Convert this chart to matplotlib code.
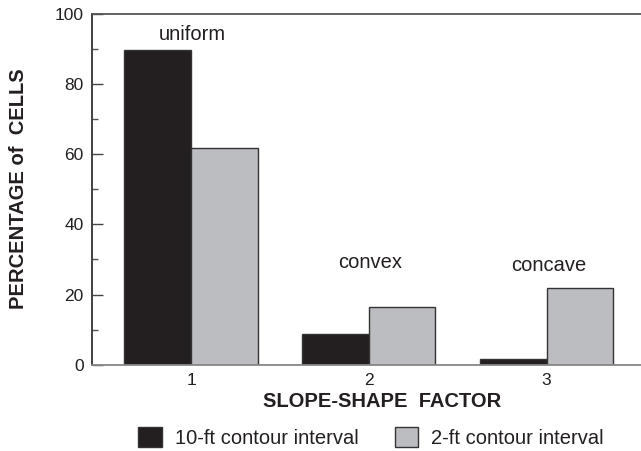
import matplotlib
matplotlib.use("Agg")
import matplotlib.pyplot as plt
from matplotlib.patches import Patch
from matplotlib.ticker import MultipleLocator

plt.rcParams['font.family'] = ['Liberation Sans', 'DejaVu Sans']

categories = [1, 2, 3]
tick_labels = ["1", "2", "3"]
series_10ft = [89.8, 8.7, 1.7]
series_2ft = [61.9, 16.4, 21.9]
shape_labels = ["uniform", "convex", "concave"]
shape_label_y = [92.6, 27.6, 26.8]
legend_labels = ["10-ft contour interval", "2-ft contour interval"]

black = "#231f20"
grey = "#bcbdc1"
edge = "#333333"
text_col = "#231f20"

W, H = 641, 451
fig = plt.figure(figsize=(W / 100, H / 100), dpi=100)
left, bottom = 92, 364.7
ax = fig.add_axes([left / W, (H - bottom) / H, (665 - left) / W, 350.7 / H])

width = 0.375
ax.bar(categories, series_10ft, width=-width, align='edge', color=black,
       edgecolor=edge, linewidth=1.0, zorder=2)
ax.bar(categories, series_2ft, width=width, align='edge', color=grey,
       edgecolor=edge, linewidth=1.0, zorder=2)

px_per_unit = 177.8
x0 = 1 - (191 - left) / px_per_unit
ax.set_xlim(x0, x0 + (665 - left) / px_per_unit)
ax.set_ylim(0, 100)

for c, lab, yy in zip(categories, shape_labels, shape_label_y):
    ax.text(c + 0.01, yy, lab, ha='center', va='baseline', fontsize=14.5, color=text_col)

ax.set_xticks(categories)
ax.set_xticklabels(tick_labels)
ax.yaxis.set_major_locator(MultipleLocator(20))
ax.yaxis.set_minor_locator(MultipleLocator(10))
ax.tick_params(axis='y', which='major', direction='in', length=8, width=1,
               labelsize=12.5, colors='#444444', labelcolor=text_col, pad=6)
ax.tick_params(axis='y', which='minor', direction='in', length=4, width=1,
               colors='#555555')
ax.tick_params(axis='x', which='major', length=0, labelsize=12.5,
               labelcolor=text_col, pad=6)

ax.spines['right'].set_visible(False)
ax.spines['left'].set_color('#333333')
ax.spines['top'].set_color('#555555')
ax.spines['bottom'].set_color('#888888')
for s in ['left', 'top', 'bottom']:
    ax.spines[s].set_linewidth(1.3)

fig.text(18.5 / W, 1 - 189 / H, "PERCENTAGE of  CELLS", rotation=90,
         ha='center', va='center', fontsize=14.5, fontweight='bold', color=text_col)
fig.text(382 / W, 1 - 401.5 / H, "SLOPE-SHAPE  FACTOR", ha='center',
         va='center', fontsize=14.5, fontweight='bold', color=text_col)

handles = [Patch(facecolor=black, edgecolor=edge, linewidth=1.0),
           Patch(facecolor=grey, edgecolor=edge, linewidth=1.0)]
fig.legend(handles, legend_labels, loc='center', bbox_to_anchor=(371 / W, 1 - 437.5 / H),
           ncol=2, frameon=False, fontsize=14.5, handlelength=1.15, handleheight=1.15,
           handletextpad=0.65, columnspacing=1.8, borderaxespad=0, borderpad=0,
           labelcolor=text_col)

fig.savefig("out.png", dpi=100)
